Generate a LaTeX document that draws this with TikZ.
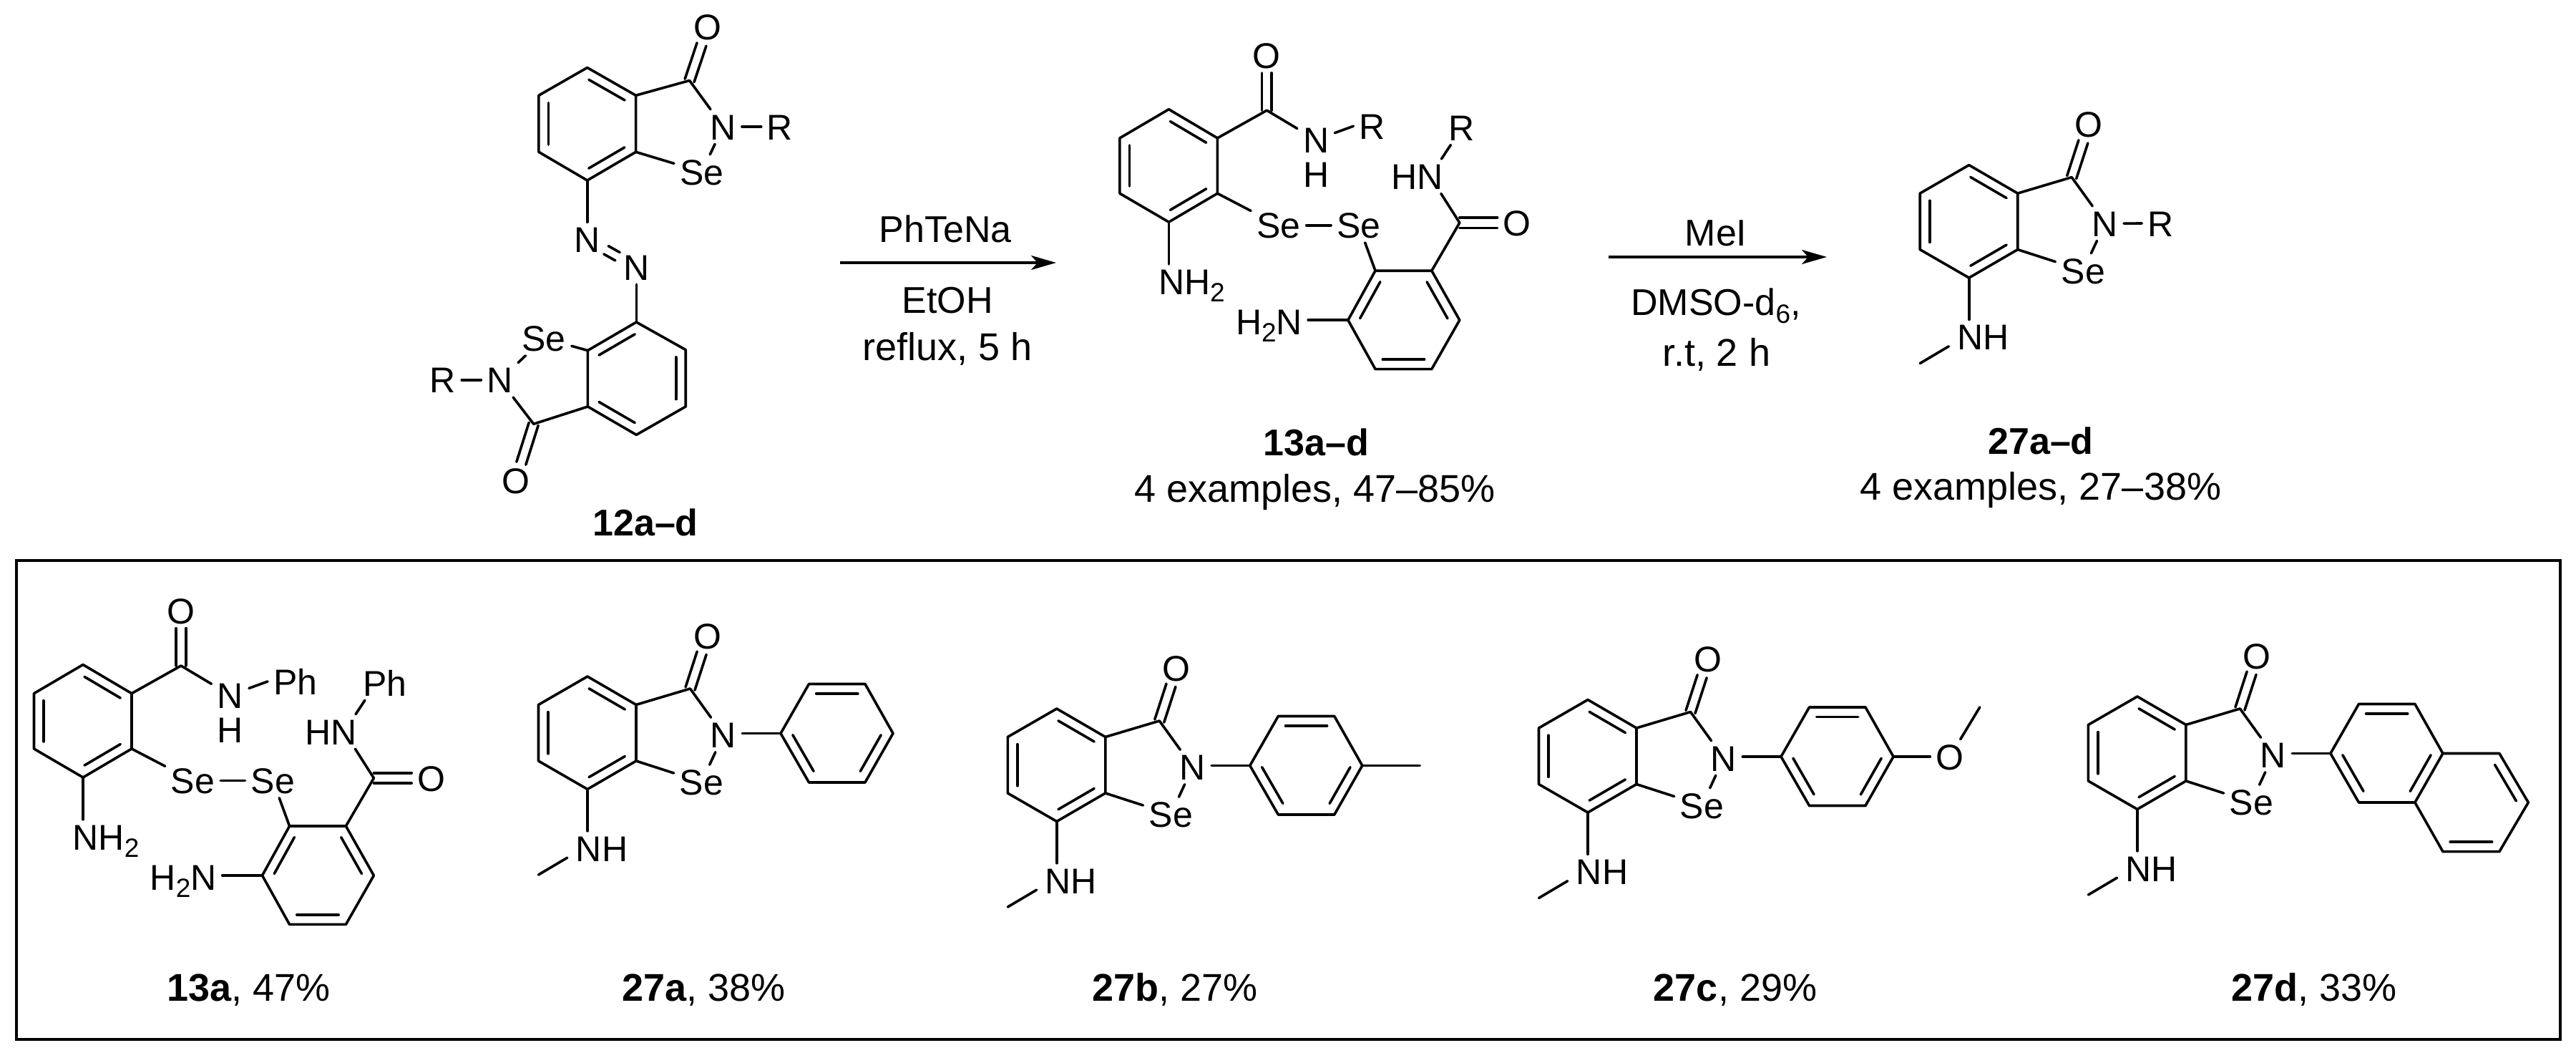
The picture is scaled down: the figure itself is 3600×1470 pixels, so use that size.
\documentclass[tikz,border=0pt]{standalone}
\usepackage{fontspec}
\setmainfont{Liberation Sans}
\usetikzlibrary{calc,arrows.meta}
\tikzset{
  bond/.style={line width=3.6pt,line cap=round,line join=round,black},
  atom/.style={font=\fontsize{50}{50}\selectfont,text height=36pt,text depth=0pt,inner xsep=8pt,inner ysep=6pt},
  capt/.style={font=\fontsize{52}{52}\selectfont,text height=37pt,text depth=0pt,inner sep=0pt},
  capw/.style={font=\fontsize{54}{54}\selectfont,text height=38pt,text depth=0pt,inner sep=0pt},
  rarrow/.style={line width=3.6pt,-{Stealth[length=35pt,width=20pt,inset=9pt]}},
  panel/.style={line width=4pt,draw=black}
}
\newcommand{\subdig}[1]{\raisebox{-10.5pt}{\fontsize{37}{37}\selectfont #1}}
% inner line of a ring double bond; a -> b runs clockwise round the ring
\newcommand{\inb}[2]{\draw[bond] ($(#1)!.13!(#2)!13.5pt!-90:(#2)$) -- ($(#2)!.13!(#1)!13.5pt!90:(#1)$);}
% symmetric double bond between two named points
\newcommand{\dbl}[3]{%
  \path (#1) -- (#2) coordinate[pos=0] (tmpA) coordinate[pos=1] (tmpB);
  \draw[bond] ($(tmpA)!#3!90:(tmpB)$) -- ($(tmpB)!#3!-90:(tmpA)$);
  \draw[bond] ($(tmpA)!#3!-90:(tmpB)$) -- ($(tmpB)!#3!90:(tmpA)$);}
% benzisoselenazolone core with NHMe
\newcommand{\selcore}[3]{%
\begin{scope}[shift={(#2,#3)}]
  \coordinate (#1r1) at (0,0);
  \coordinate (#1r2) at (68,39.5);
  \coordinate (#1r3) at (68,118);
  \coordinate (#1r4) at (0,157.5);
  \coordinate (#1r5) at (-68.5,118);
  \coordinate (#1r6) at (-68.5,39.5);
  \coordinate (#1C) at (143.5,17);
  \coordinate (#1Me) at (-68.5,277);
  \node[atom] (#1O) at (167.5,-57) {O};
  \node[atom] (#1N) at (190,81.5) {N};
  \node[atom] (#1Se) at (159.5,147.5) {Se};
  \node[atom] (#1NH) at (20,240) {NH};
  \draw[bond] (#1r1)--(#1r2)--(#1r3)--(#1r4)--(#1r5)--(#1r6)--cycle;
  \inb{#1r1}{#1r2}\inb{#1r3}{#1r4}\inb{#1r5}{#1r6}
  \draw[bond] (#1r2)--(#1C);
  \draw[bond] (#1C)--(#1N);
  \draw[bond] (#1N)--(#1Se);
  \draw[bond] (#1r3)--(#1Se);
  \dbl{#1C}{#1O}{6.8pt}
  \draw[bond] (#1r4)--(#1r4 |- #1NH.north);
  \draw[bond] (#1Me)--($(#1NH.south west)+(-4,-11)$);
\end{scope}}
% aryl ring on the core N
\newcommand{\arylring}[3]{%
\begin{scope}[shift={(#2,#3)}]
  \coordinate (#1a1) at (270,79.5);
  \coordinate (#1a2) at (309.5,10.5);
  \coordinate (#1a3) at (388,10.5);
  \coordinate (#1a4) at (427,79.5);
  \coordinate (#1a5) at (388,148);
  \coordinate (#1a6) at (309.5,148);
  \draw[bond] (#1a1)--(#1a2)--(#1a3)--(#1a4)--(#1a5)--(#1a6)--cycle;
  \inb{#1a2}{#1a3}\inb{#1a4}{#1a5}\inb{#1a6}{#1a1}
  \draw[bond] (#1a1)--(#1a1 -| #1N.east);
\end{scope}}
% bis(aminobenzamide) diselenide, drawn in the frame of 13a
\newcommand{\disel}[4]{%
\begin{scope}[shift={(#2,#3)}]
  \coordinate (#1A1) at (116,928.5);
  \coordinate (#1A2) at (184,968.7);
  \coordinate (#1A3) at (184,1046);
  \coordinate (#1A4) at (116,1086);
  \coordinate (#1A5) at (47.5,1046);
  \coordinate (#1A6) at (47.5,968.7);
  \coordinate (#1B1) at (404.6,1154);
  \coordinate (#1B2) at (483.4,1154);
  \coordinate (#1B3) at (522.4,1223);
  \coordinate (#1B4) at (483.4,1291.4);
  \coordinate (#1B5) at (404.6,1291.4);
  \coordinate (#1B6) at (366.5,1223);
  \coordinate (#1C1) at (253,930);
  \coordinate (#1C2) at (522.4,1087);
  \node[atom] (#1Oa) at (253,853.5) {O};
  \node[atom] (#1Na) at (321.7,971) {N};
  \node[atom] (#1Ha) at (321.7,1019) {H};
  \node[atom,anchor=west] (#1Ra) at (374,952) {#4};
  \node[atom] (#1Sea) at (269.5,1090.5) {Se};
  \node[atom] (#1Seb) at (381.4,1090.5) {Se};
  \node[atom] (#1Nt) at (148,1169) {NH\subdig{2}};
  \node[atom,anchor=east] (#1Nb) at (310.7,1225) {H\subdig{2}N};
  \node[atom] (#1Ob) at (602.8,1087) {O};
  \node[atom] (#1Nc) at (481,1022) {N};
  \node[atom] (#1Hc) at (445,1022) {H};
  \node[atom,anchor=west] (#1Rc) at (499,954) {#4};
  \draw[bond] (#1A1)--(#1A2)--(#1A3)--(#1A4)--(#1A5)--(#1A6)--cycle;
  \inb{#1A1}{#1A2}\inb{#1A3}{#1A4}\inb{#1A5}{#1A6}
  \draw[bond] (#1B1)--(#1B2)--(#1B3)--(#1B4)--(#1B5)--(#1B6)--cycle;
  \inb{#1B2}{#1B3}\inb{#1B4}{#1B5}\inb{#1B6}{#1B1}
  \draw[bond] (#1A2)--(#1C1);
  \dbl{#1C1}{#1Oa}{6.8pt}
  \draw[bond] (#1C1)--(#1Na);
  \draw[bond] (#1Na)--(#1Ra.west);
  \draw[bond] (#1A3)--(#1Sea);
  \draw[bond] (#1Sea)--(#1Seb);
  \draw[bond] (#1Seb)--(#1B1);
  \draw[bond] (#1A4)--(#1A4 |- #1Nt.north);
  \draw[bond] (#1B6)--(#1B6 -| #1Nb.east);
  \draw[bond] (#1B2)--(#1C2);
  \dbl{#1C2}{#1Ob}{7.2pt}
  \draw[bond] (#1C2)--(#1Nc);
  \draw[bond] (#1Nc)--($(#1Rc.south west)+(11,0)$);
\end{scope}}

\begin{document}
\begin{tikzpicture}[x=1pt,y=-1pt]
\useasboundingbox (0,0) rectangle (3600,1470);

% ---------- 12a-d
\coordinate (ua) at (820.7,94.5);
\coordinate (ub) at (888.6,133.3);
\coordinate (uc) at (888.6,212.3);
\coordinate (ud) at (820.7,252);
\coordinate (ue) at (752.9,212.3);
\coordinate (uf) at (752.9,133.3);
\coordinate (uC) at (963.6,112.5);
\node[atom] (uO) at (988.6,37.8) {O};
\node[atom] (uN) at (1010.7,177) {N};
\node[atom] (uR) at (1090,177) {R};
\node[atom] (uSe) at (980.7,240) {Se};
\node[atom] (azo1) at (820.7,334.5) {N};
\node[atom] (azo2) at (889.3,373) {N};
\coordinate (la) at (889.3,450);
\coordinate (lb) at (958.2,488.6);
\coordinate (lc) at (958.2,568);
\coordinate (ld) at (889.3,607.4);
\coordinate (le) at (821.4,568);
\coordinate (lf) at (821.4,489.6);
\coordinate (lC) at (745.7,592.3);
\node[atom] (lO) at (720.7,671.4) {O};
\node[atom] (lN) at (698.6,530.8) {N};
\node[atom] (lR) at (619,530.8) {R};
\node[atom] (lSe) at (760,472.6) {Se};
\draw[bond] (ua)--(ub)--(uc)--(ud)--(ue)--(uf)--cycle;
\inb{ua}{ub}\inb{uc}{ud}\inb{ue}{uf}
\draw[bond] (ub)--(uC);
\dbl{uC}{uO}{6.8pt}
\draw[bond] (uC)--(uN);
\draw[bond] (uN)--(uR);
\draw[bond] (uN)--(uSe);
\draw[bond] (uc)--(uSe);
\draw[bond] (ud)--(ud |- azo1.north);
\dbl{azo1}{azo2}{6.5pt}
\draw[bond] (azo2)--(la);
\draw[bond] (la)--(lb)--(lc)--(ld)--(le)--(lf)--cycle;
\inb{lf}{la}\inb{lb}{lc}\inb{ld}{le}
\draw[bond] (le)--(lC);
\dbl{lC}{lO}{6.8pt}
\draw[bond] (lC)--(lN);
\draw[bond] (lN)--(lR);
\draw[bond] (lN)--(lSe);
\draw[bond] (lf)--(lSe);
\node[capt] (l12) at (902,729.5) {\bfseries 12a–d};

% ---------- arrow 1
\coordinate (ar1s) at (1174,367);
\coordinate (ar1e) at (1476,367);
\draw[rarrow] (ar1s)--(ar1e);
\node[capt] (t1) at (1321,320) {PhTeNa};
\node[capt] (t2) at (1324,419) {EtOH};
\node[capw] (t3) at (1324,484) {reflux, 5 h};

% ---------- 13a-d
\disel{s}{1517.4}{-775.8}{R}
\node[capt] (l13) at (1839.4,618) {\bfseries 13a–d};
\node[capw] (l13b) at (1837.5,682.5) {4 examples, 47–85\%};

% ---------- arrow 2
\coordinate (ar2s) at (2248,359);
\coordinate (ar2e) at (2553,359);
\draw[rarrow] (ar2s)--(ar2e);
\node[capt] (t4) at (2398,324.5) {MeI};
\node[capt] (t5) at (2398,422) {DMSO-d\subdig{6},};
\node[capw] (t6) at (2399,492) {r.t, 2 h};

% ---------- 27a-d
\selcore{t}{2751.7}{230.6}
\node[atom] (tR) at (3019.5,312) {R};
\draw[bond] (tN)--(tR);
\node[capt] (l27) at (2852,616.3) {\bfseries 27a–d};
\node[capw] (l27b) at (2852,679.6) {4 examples, 27–38\%};

% ---------- panel
\draw[panel] (23,783.4) rectangle (3578,1452);

\disel{p}{0}{0}{Ph}
\node[capw] (c1) at (347.5,1379.4) {\textbf{13a}, 47\%};

\selcore{a}{821}{945}
\arylring{a}{821}{945}
\node[capw] (c2) at (983.5,1379.4) {\textbf{27a}, 38\%};

\selcore{b}{1476.8}{990}
\arylring{b}{1476.8}{990}
\coordinate (bMe) at (1984.3,1069.5);
\draw[bond] (ba4)--(bMe);
\node[capw] (c3) at (1641.7,1379.4) {\textbf{27b}, 27\%};

\selcore{c}{2219}{977.5}
\arylring{c}{2219}{977.5}
\node[atom] (cOx) at (2725,1057) {O};
\coordinate (cMx) at (2766.8,987.9);
\draw[bond] (ca4)--(ca4 -| cOx.west);
\draw[bond] (cOx)--(cMx);
\node[capw] (c4) at (2425,1379.4) {\textbf{27c}, 29\%};

\selcore{d}{2986.9}{973}
\arylring{d}{2986.9}{973}
\coordinate (dp1) at (3492.9,1052.5);
\coordinate (dp2) at (3533.3,1121);
\coordinate (dp3) at (3492.9,1189.6);
\coordinate (dp4) at (3413.9,1189.6);
\draw[bond] (da4)--(dp1)--(dp2)--(dp3)--(dp4)--(da5);
\inb{dp1}{dp2}\inb{dp3}{dp4}
\node[capw] (c5) at (3233.6,1379.4) {\textbf{27d}, 33\%};
\end{tikzpicture}
\end{document}
